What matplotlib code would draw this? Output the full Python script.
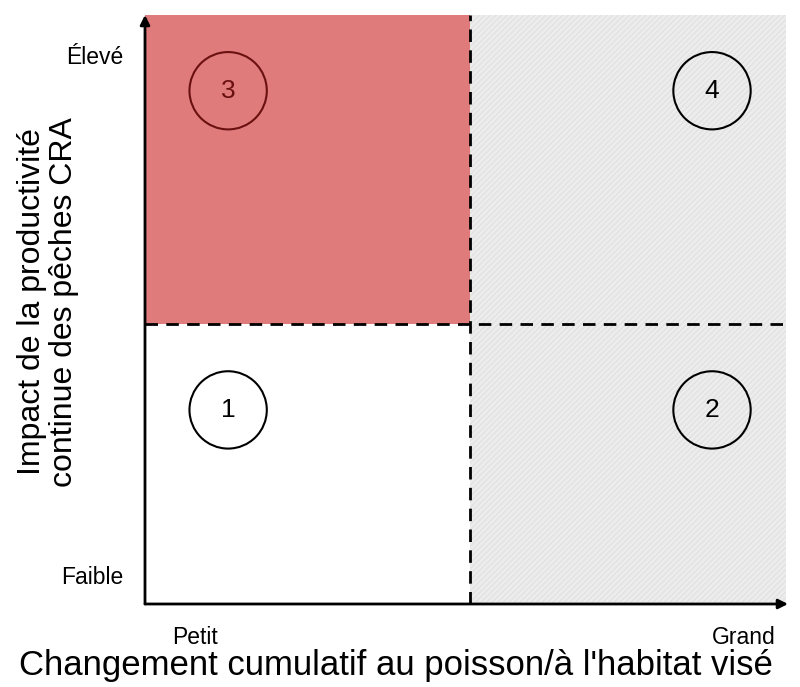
import matplotlib
matplotlib.use("Agg")
import matplotlib.pyplot as plt
from matplotlib.patches import Rectangle

plt.rcParams['font.family'] = ['Liberation Sans', 'DejaVu Sans']

# Data
quadrant_labels = ["1", "2", "3", "4"]
quadrant_x = [0.256, 1.746, 0.256, 1.746]
quadrant_y = [0.692, 0.692, 1.830, 1.830]
x_tick_labels = ["Petit", "Grand"]
x_tick_pos = [0.155, 1.845]
y_tick_labels = ["Faible", "Élevé"]
y_tick_pos = [0.093, 1.95]
split_x = 1.0
split_y = 1.0
x_max = 1.98
y_max = 2.10

fig = plt.figure(figsize=(8, 6.87), dpi=100)
ax = fig.add_axes([145/800, (687-604)/687, (788-145)/800, (604-15)/687])
ax.set_xlim(0, x_max)
ax.set_ylim(0, y_max)
ax.axis('off')

# Quadrant backgrounds
ax.add_patch(Rectangle((0, split_y), split_x, y_max - split_y, facecolor='#e07b7b',
                       edgecolor='none', zorder=1))
ax.add_patch(Rectangle((split_x, 0), x_max - split_x - 0.005, y_max, facecolor='#ededed',
                       edgecolor='#e2e2e2', hatch='//////', linewidth=0, zorder=1))

# Dashed dividers
ax.plot([split_x, split_x], [0, y_max], color='black', lw=2, linestyle=(0, (4.5, 3)), zorder=3)
ax.plot([0, x_max], [split_y, split_y], color='black', lw=2, linestyle=(0, (4.5, 3)), zorder=3)

# Axes with arrows
ax.annotate('', xy=(0, y_max), xytext=(0, 0), xycoords='data',
            arrowprops=dict(arrowstyle='-|>', lw=2, color='black', mutation_scale=14,
                            shrinkA=0, shrinkB=0), annotation_clip=False, zorder=4)
ax.annotate('', xy=(x_max, 0), xytext=(0, 0), xycoords='data',
            arrowprops=dict(arrowstyle='-|>', lw=2, color='black', mutation_scale=14,
                            shrinkA=0, shrinkB=0), annotation_clip=False, zorder=4)

# Quadrant circles and numbers
for lab, x, y in zip(quadrant_labels, quadrant_x, quadrant_y):
    c = '#6b1010' if lab == "3" else 'black'
    ax.scatter([x], [y], s=3100, facecolors='none', edgecolors=c, linewidths=1.5, zorder=5)
    ax.text(x, y, lab, ha='center', va='center', fontsize=19, color=c, zorder=6)

# Tick labels
for lab, y in zip(y_tick_labels, y_tick_pos):
    ax.text(-0.066, y, lab, ha='right', va='center', fontsize=16.5, clip_on=False)
for lab, x in zip(x_tick_labels, x_tick_pos):
    ax.text(x, -0.12, lab, ha='center', va='center', fontsize=16.5, clip_on=False)

# Axis titles
fig.text(396/800, 1 - 665/687, "Changement cumulatif au poisson/à l'habitat visé",
         ha='center', va='center', fontsize=25)
fig.text(48/800, 1 - 302/687, "Impact de la productivité\ncontinue des pêches CRA",
         ha='center', va='center', fontsize=23, rotation=90, linespacing=1.1)

fig.savefig('out.png', dpi=100, facecolor='white')
